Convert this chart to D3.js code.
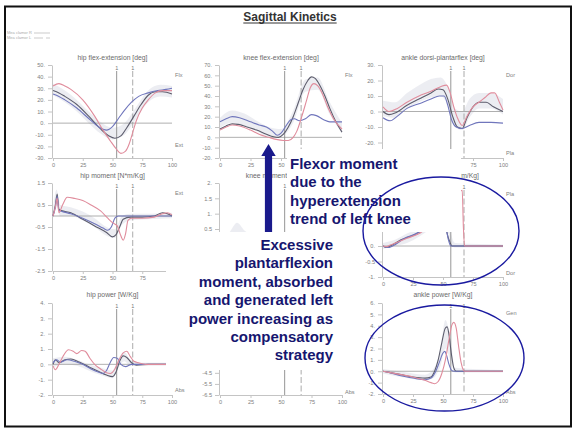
<!DOCTYPE html>
<html><head><meta charset="utf-8">
<script src="https://cdn.jsdelivr.net/npm/d3@7"></script>
<style>
html,body{margin:0;padding:0;background:#fff;}
svg{display:block;font-family:"Liberation Sans",Arial,sans-serif;}
</style></head><body>
<svg id="chart" width="574" height="432"></svg>
<script>
// ---------- data: gait cycle (%) vs value ----------
const xTicks = [0, 25, 50, 75, 100];
const eventsHip = [53.5, 67];
const eventsKnee = [53, 66.5];
const eventsAnkle = [56.5, 67.5];

// hip flex-extension [deg]
const hipFlexTicks = [50, 40, 30, 20, 10, 0, -10, -20, -30];
const hipFlexBand = [[0,24,34],[10,18,28],[20,10,20],[30,0,10],[40,-9,1],[50,-14,-4],[60,-10,0],[70,4,14],[80,18,28],[90,23,33],[100,22,32]];
const hipFlexNormal = [[0,28],[5,26],[10,23],[20,16],[30,6],[40,-5],[47,-11],[52,-13],[57,-11],[62,-4],[68,6],[74,16],[80,24],[86,27],[92,27],[100,25]];
const hipFlexRight = [[0,25],[5,23],[10,20],[20,13],[30,4],[38,-3],[45,-6],[50,-3],[55,4],[60,11],[66,18],[72,23],[80,26],[88,28],[95,29],[100,30]];
const hipFlexLeft = [[0,32],[5,34],[10,32],[15,29],[25,20],[35,6],[42,-6],[48,-15],[53,-22],[57,-26],[61,-24],[64,-18],[67,-8],[70,2],[75,13],[80,20],[86,26],[92,28],[100,28]];

// knee flex-extension [deg]
const kneeFlexTicks = [70, 60, 50, 40, 30, 20, 10, 0, -10, -20];
const kneeFlexBand = [[0,9,19],[10,14,26],[20,11,23],[30,6,16],[40,1,10],[50,1,8],[60,14,26],[70,44,56],[80,46,58],[90,22,34],[100,4,14]];
const kneeFlexNormal = [[0,8],[5,11],[10,13],[15,12.5],[22,10],[30,7],[38,3],[44,0.5],[48,0],[52,3],[56,10],[60,20],[64,33],[68,46],[72,55],[75,58.5],[78,57],[82,50],[86,40],[90,28],[95,15],[100,5]];
const kneeFlexRight = [[0,15],[5,18],[10,20],[16,19],[25,15],[32,12],[38,10],[43,6],[47,2],[50,4],[54,11],[58,17],[61,18],[65,16],[70,18],[75,22],[79,21],[85,17],[90,15],[100,15]];
const kneeFlexLeft = [[0,7],[5,10],[10,12],[16,11],[25,7],[32,3],[40,0],[46,-2],[52,-3],[56,-3],[60,0],[63,6],[67,20],[71,36],[74,48],[77,52],[80,50],[84,42],[88,30],[93,18],[100,8]];

// ankle dorsi-plantarflex [deg]
const ankleFlexTicks = [30, 20, 10, 0, -10, -20, -30];
const ankleFlexBand = [[0,-3,7],[10,-4,6],[20,2,12],[30,6,17],[40,9,21],[48,10,22],[54,4,16],[60,-10,2],[66,-12,0],[72,-4,8],[80,2,12],[90,2,12],[100,-2,8]];
const ankleFlexNormal = [[0,0],[5,-2],[10,-1],[20,4],[30,8],[40,12],[46,14.5],[50,14],[54,8],[58,-3],[62,-10],[66,-11],[70,-4],[75,3],[80,6],[86,6],[92,3],[100,0]];
const ankleFlexRight = [[0,-4],[6,-6],[12,-3],[20,2],[30,5],[40,8],[47,10],[51,10],[54,4],[57,-5],[61,-10],[66,-11],[72,-9],[80,-7],[90,-7],[100,-7.5]];
const ankleFlexLeft = [[0,3],[5,0],[12,2],[20,6],[30,10],[40,13],[48,16],[53,17],[56,12],[59,3],[62,-4],[66,-9],[70,-3],[75,3],[80,6],[85,9],[90,12],[93,12],[97,6],[100,1]];

// hip moment [N*m/Kg]
const hipMomentTicks = [1.5, 0.5, -0.5, -1.5, -2.5];
const hipMomentBand = [[0,-0.1,0.3],[3,0.4,1.2],[6,0,0.5],[15,0,0.4],[25,-0.2,0.2],[35,-0.5,-0.1],[45,-0.9,-0.5],[52,-1.0,-0.6],[58,-0.4,0],[65,-0.2,0.1],[80,-0.15,0.1],[100,-0.1,0.15]];
const hipMomentNormal = [[0,0],[2,0.5],[3.5,1.0],[5,0.3],[7,0.25],[15,0.15],[25,-0.15],[35,-0.45],[45,-0.75],[50,-0.95],[53,-0.85],[56,-0.5],[59,-0.15],[65,-0.05],[75,-0.05],[85,0],[92,0.15],[96,0.1],[100,0]];
const hipMomentRight = [[0,0],[2,0.4],[3.5,0.9],[5,0.25],[8,0.2],[15,0.1],[25,-0.1],[35,-0.35],[42,-0.55],[46,-0.65],[49,-0.5],[52,-0.1],[55,0],[70,0],[85,0],[100,0]];
const hipMomentLeft = [[0,0],[2,0.4],[3.5,0.8],[5,0.15],[8,0.5],[12,0.85],[18,0.8],[25,0.7],[32,0.5],[40,0.23],[46,-0.1],[50,-0.3],[54,-0.45],[57,-0.9],[59,-1.1],[61,-0.8],[63,-0.2],[66,-0.1],[75,-0.1],[85,-0.05],[92,0.1],[96,0.15],[100,0.05]];

// knee moment [N*m/Kg]
const kneeMomentTicks = [2, 1.5, 1, 0.5, 0, -0.5, -1];
const kneeMomentBand = [[0,-0.1,0.1],[8,0,0.4],[14,0.1,0.7],[20,0,0.45],[30,-0.2,0.2],[40,-0.35,0],[50,-0.1,0.3],[60,-0.1,0.15],[75,-0.1,0.1],[88,-0.3,0],[100,-0.1,0.1]];
const kneeMomentNormal = [[0,0],[3,-0.15],[8,0.15],[14,0.35],[20,0.25],[30,0],[40,-0.2],[48,-0.1],[52,0.1],[56,0.15],[62,0],[75,0],[88,-0.15],[95,-0.1],[100,0]];
const kneeMomentRight = [[0,0],[5,-0.1],[12,0.2],[20,0.1],[30,-0.05],[40,-0.2],[50,0],[56,0.1],[62,0],[100,0]];
const kneeMomentLeft = [[0,0],[5,-0.1],[12,0.1],[20,-0.1],[30,-0.3],[40,-0.4],[50,-0.3],[58,-0.1],[65,0],[100,0]];

// ankle moment [N*m/Kg]
const ankleMomentTicks = [2, 1.5, 1, 0.5, 0, -0.5, -1];
const ankleMomentBand = [[0,-0.1,0.1],[10,0,0.2],[20,0.1,0.4],[30,0.3,0.6],[40,0.6,1.0],[48,1.0,1.5],[52,0.9,1.4],[56,0.1,0.5],[60,-0.05,0.1],[100,-0.05,0.05]];
const ankleMomentNormal = [[0,0],[3,-0.05],[6,0],[15,0.2],[28,0.4],[38,0.7],[44,1.15],[48,1.3],[51,1.0],[53.5,0.4],[56,0.1],[57.5,0],[100,0]];
const ankleMomentRight = [[0,0],[4,-0.05],[8,0],[18,0.25],[30,0.45],[40,0.8],[46,1.15],[49,1.1],[52,0.7],[54.5,0.2],[56.5,0],[100,0]];
const ankleMomentLeft = [[0,0],[3,-0.02],[6,0.03],[12,0.12],[20,0.25],[31,0.42],[40,0.7],[50,1.0],[58,1.4],[63,1.7],[66,1.8],[67,0.6],[68,0],[100,0]];

// hip power [W/Kg]
const hipPowerTicks = [4, 3, 2, 1, 0, -1, -2];
const hipPowerBand = [[0,-0.2,0.4],[10,0,0.5],[20,-0.1,0.3],[30,-0.4,0],[40,-0.7,-0.2],[50,-0.9,-0.4],[55,-0.2,0.4],[60,0.2,0.8],[65,-0.1,0.3],[75,-0.1,0.1],[100,-0.1,0.1]];
const hipPowerNormal = [[0,0],[2,0.3],[5,0.1],[10,0.3],[15,0.35],[22,0.15],[30,-0.15],[38,-0.45],[45,-0.7],[50,-0.8],[53,-0.5],[56,0.2],[59,0.55],[62,0.45],[66,0.1],[70,-0.05],[80,0],[90,0],[100,0]];
const hipPowerRight = [[0,0.1],[3,0.3],[6,0.15],[12,0.3],[18,0.2],[25,0],[32,-0.3],[38,-0.5],[42,-0.6],[45,-0.4],[48,0.1],[51,0.45],[54,0.4],[57,0],[61,-0.15],[66,0],[100,0]];
const hipPowerLeft = [[0,-0.1],[2,-0.35],[5,0],[9,0.6],[13,0.95],[17,0.85],[20,0.7],[24,0.9],[27,0.85],[31,0.4],[35,0],[40,-0.3],[45,-0.55],[48,-0.6],[52,-0.3],[55,0.2],[59,0.75],[62,0.85],[65,0.5],[68,0.2],[72,0.1],[78,0],[100,0]];

// knee power [W/Kg]
const kneePowerTicks = [1.5, 0.5, -0.5, -1.5, -2.5, -3.5, -4.5, -5.5, -6.5];
const kneePowerBand = [[0,-0.3,0.2],[10,-0.2,0.6],[20,-0.2,0.3],[35,-0.2,0.2],[48,-0.1,0.4],[55,-0.8,-0.2],[62,-1.2,-0.5],[70,-0.4,0],[85,-0.6,-0.2],[92,-0.8,-0.3],[100,-0.1,0.1]];
const kneePowerNormal = [[0,0],[5,-0.3],[12,0.3],[20,0.1],[35,0],[48,0.2],[55,-0.5],[62,-0.9],[68,-0.2],[85,-0.4],[92,-0.6],[100,0]];
const kneePowerRight = [[0,0],[5,-0.2],[12,0.2],[25,0],[40,0.1],[50,0.1],[58,-0.4],[64,-0.6],[72,-0.1],[88,-0.3],[100,0]];
const kneePowerLeft = [[0,0],[6,-0.1],[15,0.1],[30,-0.1],[45,0],[55,0.2],[62,-0.3],[68,-0.7],[75,-0.1],[90,-0.2],[100,0]];

// ankle power [W/Kg]
const anklePowerTicks = [6, 5, 4, 3, 2, 1, 0, -1, -2];
const anklePowerBand = [[0,-0.2,0.2],[20,-0.6,-0.1],[35,-0.8,-0.3],[42,-0.6,0.2],[48,0.5,2],[52,2,4.5],[56,1,3],[60,-0.1,0.3],[100,-0.1,0.1]];
const anklePowerNormal = [[0,0],[5,-0.1],[15,-0.3],[25,-0.5],[35,-0.6],[40,-0.5],[43,0],[46,1],[49,2.5],[52,3.8],[53.5,3.9],[55,3.2],[57,1.5],[59,0.3],[61,0],[100,0]];
const anklePowerRight = [[0,0],[5,-0.1],[15,-0.4],[25,-0.6],[35,-0.75],[40,-0.6],[44,0],[47,0.8],[50,1.6],[51.5,1.75],[53,1.4],[55,0.6],[57,0.1],[59,0],[100,0]];
const anklePowerLeft = [[0,0],[5,-0.1],[15,-0.3],[25,-0.5],[35,-0.8],[40,-1.0],[43,-1.1],[46,-0.9],[49,-0.2],[52,1.0],[55,2.8],[57.5,4.1],[59,4.3],[61,3.8],[63,2.2],[65,0.8],[67,0.1],[68,0],[100,0]];

// ---------- panel layout ----------
const colX = { hip: [53, 172], knee: [220, 342], ankle: [383, 503] };
const panels = [
  { title: "hip flex-extension [deg]", col: "hip", yr: [158, 65], domain: [-30, 50], ticks: hipFlexTicks, events: eventsHip, side: ["Flx", "Ext"], sideLow: 13, titleY: 60,
    band: hipFlexBand, normal: hipFlexNormal, right: hipFlexRight, left: hipFlexLeft },
  { title: "knee flex-extension [deg]", col: "knee", yr: [158, 65], domain: [-20, 70], ticks: kneeFlexTicks, events: eventsKnee, side: ["Flx", "Ext"], sideLow: 5, titleY: 60,
    band: kneeFlexBand, normal: kneeFlexNormal, right: kneeFlexRight, left: kneeFlexLeft },
  { title: "ankle dorsi-plantarflex [deg]", col: "ankle", yr: [158, 65], domain: [-30, 30], ticks: ankleFlexTicks, events: eventsAnkle, side: ["Dor", "Pla"], sideLow: 5, titleY: 60,
    band: ankleFlexBand, normal: ankleFlexNormal, right: ankleFlexRight, left: ankleFlexLeft },
  { title: "hip moment [N*m/Kg]", col: "hip", yr: [271, 183], domain: [-2.5, 1.5], ticks: hipMomentTicks, events: eventsHip, side: ["Ext", "Flx"], sideLow: 5, titleY: 178,
    band: hipMomentBand, normal: hipMomentNormal, right: hipMomentRight, left: hipMomentLeft },
  { title: "knee moment [N*m/Kg]", col: "knee", yr: [275, 183], domain: [-1, 2], ticks: kneeMomentTicks, events: eventsKnee, side: ["Ext", "Flx"], sideLow: 5, titleY: 178,
    band: kneeMomentBand, normal: kneeMomentNormal, right: kneeMomentRight, left: kneeMomentLeft },
  { title: "ankle moment [N*m/Kg]", col: "ankle", yr: [277, 184], domain: [-1, 2], ticks: ankleMomentTicks, events: eventsAnkle, side: ["Pla", "Dor"], sideLow: 4, titleY: 178,
    band: ankleMomentBand, normal: ankleMomentNormal, right: ankleMomentRight, left: ankleMomentLeft },
  { title: "hip power [W/Kg]", col: "hip", yr: [395, 303], domain: [-2, 4], ticks: hipPowerTicks, events: eventsHip, side: ["Gen", "Abs"], sideLow: 5, titleY: 297,
    band: hipPowerBand, normal: hipPowerNormal, right: hipPowerRight, left: hipPowerLeft },
  { title: "knee power [W/Kg]", col: "knee", yr: [395, 303], domain: [-6.5, 1.8], ticks: kneePowerTicks, events: eventsKnee, side: ["Gen", "Abs"], sideLow: 3, titleY: 297,
    band: kneePowerBand, normal: kneePowerNormal, right: kneePowerRight, left: kneePowerLeft },
  { title: "ankle power [W/Kg]", col: "ankle", yr: [394, 303], domain: [-2, 6], ticks: anklePowerTicks, events: eventsAnkle, side: ["Gen", "Abs"], sideLow: 2, titleY: 297,
    band: anklePowerBand, normal: anklePowerNormal, right: anklePowerRight, left: anklePowerLeft }
];

// text boxes laid over the plots
const noteFlexor = { x: 287, y: 149, w: 174, h: 83, tx: 290, firstBase: 169, lead: 18.4,
  lines: ["Flexor moment", "due to the", "hyperextension", "trend of left knee"] };
const noteExcess = { x: 166, y: 232, w: 196, h: 138, tx: 333, firstBase: 250, lead: 18.4,
  lines: ["Excessive", "plantarflexion", "moment, absorbed", "and generated left", "power increasing as", "compensatory", "strategy"] };
const notes = [noteFlexor, noteExcess];

const colors = { band: "#d4d6e2", normal: "#5c5c6c", right: "#7076bc", left: "#e08c9c", axis: "#c4c4c4", tick: "#808080", title: "#6a6a6a" };
const noteColor = "#16166f";
const W = 574, H = 432;

const svg = d3.select("#chart");

// clip region: everything except the text boxes
const clipD = `M0,0H${W}V${H}H0Z` + notes.map(n => `M${n.x},${n.y}h${n.w}v${n.h}h${-n.w}Z`).join("");
svg.append("defs").append("clipPath").attr("id", "outsideNotes")
  .append("path").attr("d", clipD).attr("clip-rule", "evenodd");

// slide frame
svg.append("rect").attr("x", 5).attr("y", 6.5).attr("width", 566).attr("height", 420)
  .attr("fill", "#fff").attr("stroke", "#111").attr("stroke-width", 2);

// heading
const head = svg.append("text").attr("x", 290).attr("y", 21).attr("text-anchor", "middle")
  .attr("font-size", 12).attr("font-weight", "bold").attr("fill", "#333").text("Sagittal Kinetics");
const hw = head.node().getComputedTextLength();
svg.append("line").attr("x1", 290 - hw / 2).attr("x2", 290 + hw / 2).attr("y1", 23).attr("y2", 23)
  .attr("stroke", "#333").attr("stroke-width", 1);

// small legend
const legend = svg.append("g").attr("fill", "#aaa").attr("font-size", 4);
legend.append("text").attr("x", 7).attr("y", 34).text("Mea clamor R");
legend.append("text").attr("x", 7).attr("y", 39).text("Mea clamor L");
legend.append("line").attr("x1", 34).attr("x2", 50).attr("y1", 33).attr("y2", 33).attr("stroke", "#aaa").attr("stroke-width", 0.6);
legend.append("line").attr("x1", 34).attr("x2", 50).attr("y1", 38).attr("y2", 38).attr("stroke", "#aaa").attr("stroke-width", 0.6).attr("stroke-dasharray", "9,3");

const fmtTick = v => Number.isInteger(v) ? v + "." : String(v);
const plots = svg.append("g").attr("clip-path", "url(#outsideNotes)");

panels.forEach(p => {
  const xr = colX[p.col];
  const x = d3.scaleLinear().domain([0, 100]).range(xr);
  const y = d3.scaleLinear().domain(p.domain).range(p.yr);
  const g = plots.append("g");
  const top = p.yr[1], bottom = p.yr[0];

  // normal band
  g.append("path").datum(p.band)
    .attr("d", d3.area().x(d => x(d[0])).y0(d => y(d[1])).y1(d => y(d[2])).curve(d3.curveMonotoneX))
    .attr("fill", colors.band).attr("opacity", 0.45);

  // axes
  const ya = g.append("g").attr("transform", `translate(${xr[0] - 1},0)`)
    .call(d3.axisLeft(y).tickValues(p.ticks).tickFormat(fmtTick).tickSize(4).tickSizeOuter(0).tickPadding(3));
  const xa = g.append("g").attr("transform", `translate(0,${bottom})`)
    .call(d3.axisBottom(x).tickValues(xTicks).tickFormat(d3.format("d")).tickSize(3).tickSizeOuter(0).tickPadding(2));
  [ya, xa].forEach(a => {
    a.select(".domain").attr("stroke", colors.axis);
    a.selectAll(".tick line").attr("stroke", colors.axis);
    a.selectAll(".tick text").attr("fill", colors.tick).attr("font-size", 5.6)
      .attr("font-family", "Liberation Sans, Arial, sans-serif");
  });

  // zero line
  g.append("line").attr("x1", x(0)).attr("x2", x(100)).attr("y1", y(0)).attr("y2", y(0))
    .attr("stroke", "#9a9a9a").attr("stroke-width", 0.8);

  // gait events: toe-off lines
  p.events.forEach((e, i) => {
    g.append("line").attr("x1", x(e)).attr("x2", x(e)).attr("y1", top + 6).attr("y2", bottom)
      .attr("stroke", i === 0 ? "#8a8a8a" : "#a0a0a0").attr("stroke-width", 0.9)
      .attr("stroke-dasharray", i === 0 ? null : "6,2.5");
    g.append("text").attr("x", x(e)).attr("y", top + 5).attr("text-anchor", "middle")
      .attr("font-size", 5.5).attr("fill", "#777").text("1");
  });

  // curves
  const line = d3.line().x(d => x(d[0])).y(d => y(d[1])).curve(d3.curveMonotoneX);
  [["normal", p.normal], ["right", p.right], ["left", p.left]].forEach(([k, data]) => {
    g.append("path").datum(data).attr("d", line).attr("fill", "none")
      .attr("stroke", colors[k]).attr("stroke-width", 1.1).attr("stroke-linejoin", "round");
  });

  // titles and direction words
  g.append("text").attr("x", (xr[0] + xr[1]) / 2).attr("y", p.titleY).attr("text-anchor", "middle")
    .attr("font-size", 6.8).attr("fill", colors.title).text(p.title);
  g.append("text").attr("x", xr[1] + 3).attr("y", top + 12).attr("font-size", 5.6).attr("fill", colors.tick).text(p.side[0]);
  g.append("text").attr("x", xr[1] + 3).attr("y", bottom - p.sideLow + 2).attr("font-size", 5.6).attr("fill", colors.tick).text(p.side[1]);
});

// plot labels lying wholly under a text box are not rendered
plots.selectAll("text").each(function () {
  const b = this.getBBox();
  const m = this.getCTM();
  const x0 = b.x + m.e, y0 = b.y + m.f, x1 = x0 + b.width, y1 = y0 + b.height;
  const cx = (x0 + x1) / 2, cy = (y0 + y1) / 2;
  const inside = n => x0 >= n.x - 2 && x1 <= n.x + n.w + 2 && y0 >= n.y - 2 && y1 <= n.y + n.h + 2;
  const centred = n => cx > n.x && cx < n.x + n.w && cy > n.y && cy < n.y + n.h && b.width < 20;
  if (notes.some(n => inside(n) || centred(n))) d3.select(this).remove();
});

// ---------- annotations ----------
notes.forEach(n => {
  svg.append("rect").attr("x", n.x).attr("y", n.y).attr("width", n.w).attr("height", n.h).attr("fill", "#fff");
});

// upward arrow
const arrow = { x: 268.5, tip: 144, head: 156, base: 232, shaft: 3.6, wing: 7.2 };
svg.append("path").attr("d", [
  "M", arrow.x - arrow.shaft, arrow.base, "L", arrow.x - arrow.shaft, arrow.head,
  "L", arrow.x - arrow.wing, arrow.head, "L", arrow.x, arrow.tip, "L", arrow.x + arrow.wing, arrow.head,
  "L", arrow.x + arrow.shaft, arrow.head, "L", arrow.x + arrow.shaft, arrow.base, "Z"].join(" "))
  .attr("fill", "#1a1a8c");

[[noteFlexor, "start"], [noteExcess, "end"]].forEach(([n, anchor]) => {
  const t = svg.append("text").attr("font-size", 15).attr("font-weight", "bold").attr("fill", noteColor)
    .attr("text-anchor", anchor);
  n.lines.forEach((s, i) => t.append("tspan").attr("x", n.tx).attr("y", n.firstBase + i * n.lead).text(s));
});

// highlight ellipses
const rings = [{ cx: 441, cy: 231, rx: 78, ry: 54 }, { cx: 444.5, cy: 358, rx: 79.5, ry: 53 }];
rings.forEach(r => svg.append("ellipse").attr("cx", r.cx).attr("cy", r.cy).attr("rx", r.rx).attr("ry", r.ry)
  .attr("fill", "none").attr("stroke", "#1a1aa0").attr("stroke-width", 1.4));
</script>
</body></html>
